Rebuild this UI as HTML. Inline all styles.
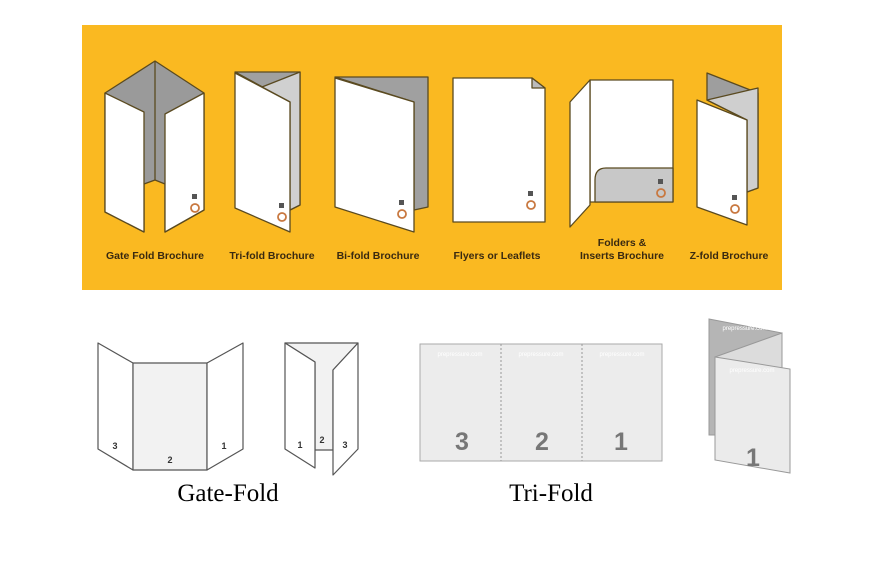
<!DOCTYPE html>
<html><head><meta charset="utf-8"><style>
body{margin:0;background:#fff;width:877px;height:577px;overflow:hidden}
svg{display:block}
.lb{font-family:"Liberation Sans",sans-serif;font-weight:bold;font-size:10.5px;fill:#3a2a10;text-anchor:middle}
.n{font-family:"Liberation Sans",sans-serif;font-weight:bold;font-size:9px;fill:#333;text-anchor:middle}
.big{font-family:"Liberation Sans",sans-serif;font-weight:bold;font-size:25px;fill:#777;text-anchor:middle}
.wm{font-family:"Liberation Sans",sans-serif;font-size:6px;fill:#fff;text-anchor:middle}
.cap{font-family:"Liberation Serif",serif;font-size:25px;fill:#000;text-anchor:middle}
</style></head><body>
<svg width="877" height="577" viewBox="0 0 877 577" xmlns="http://www.w3.org/2000/svg">
<rect x="82" y="25" width="700" height="265" fill="#fab921"/>
<g stroke="#5a4a20" stroke-width="1.3" stroke-linejoin="round">
<polygon points="105,93 155,61 204,93 204,210 165,232 165,184 155,180 144,184 144,232 105,212" fill="#9a9a9a"/>
<line x1="155" y1="61" x2="155" y2="180"/>
<polygon points="105,93 144,112 144,232 105,212" fill="#fff"/>
<polygon points="165,114 204,93 204,210 165,232" fill="#fff"/>
<polygon points="235,72 300,72 300,205 290,210 290,102" fill="#a0a0a0"/>
<polygon points="262,87 300,72 300,205 290,210 290,102" fill="#d0d0d0"/>
<polygon points="235,73 290,102 290,232 235,208" fill="#fff"/>
<polygon points="335,77 428,77 428,207 414,210 414,102" fill="#a0a0a0"/>
<polygon points="335,78 414,102 414,232 335,207" fill="#fff"/>
<polygon points="453,78 532,78 545,88 545,222 453,222" fill="#fff"/>
<polygon points="532,78 545,88 532,88" fill="#bbb"/>
<rect x="590" y="80" width="83" height="122" fill="#fff"/>
<path d="M673,168 L606,168 Q595,168 595,180 L595,202 L673,202 Z" fill="#c8c8c8"/>
<polygon points="570,102 590,80 590,205 570,227" fill="#fff"/>
<polygon points="707,73 758,93 758,188 747,192 747,120 707,100" fill="#9e9e9e"/>
<polygon points="707,100 758,88 758,188 747,192 747,120" fill="#cfcfcf"/>
<polygon points="697,100 747,120 747,225 697,207" fill="#fff"/>
</g>
<g fill="none" stroke="#c87840" stroke-width="1.8">
<circle cx="195" cy="208" r="4"/><circle cx="282" cy="217" r="4"/><circle cx="402" cy="214" r="4"/>
<circle cx="531" cy="205" r="4"/><circle cx="661" cy="193" r="4"/><circle cx="735" cy="209" r="4"/>
</g>
<g fill="#555">
<rect x="192" y="194" width="5" height="5"/><rect x="279" y="203" width="5" height="5"/><rect x="399" y="200" width="5" height="5"/>
<rect x="528" y="191" width="5" height="5"/><rect x="658" y="179" width="5" height="5"/><rect x="732" y="195" width="5" height="5"/>
</g>
<text class="lb" x="155" y="259">Gate Fold Brochure</text>
<text class="lb" x="272" y="259">Tri-fold Brochure</text>
<text class="lb" x="378" y="259">Bi-fold Brochure</text>
<text class="lb" x="497" y="259">Flyers or Leaflets</text>
<text class="lb" x="622" y="246">Folders &amp;</text>
<text class="lb" x="622" y="259">Inserts Brochure</text>
<text class="lb" x="729" y="259">Z-fold Brochure</text>

<g stroke="#555" stroke-width="1.2" stroke-linejoin="round">
<polygon points="98,343 133,363 133,470 98,449" fill="#fff"/>
<rect x="133" y="363" width="74" height="107" fill="#f2f2f2"/>
<polygon points="207,363 243,343 243,449 207,470" fill="#fff"/>
<polygon points="285,343 358,343 333,370 333,450 315,450 315,362" fill="#f2f2f2"/>
<polygon points="285,343 315,362 315,468 285,449" fill="#fff"/>
<polygon points="333,370 358,343 358,449 333,475" fill="#fff"/>
</g>
<text class="n" x="115" y="449">3</text><text class="n" x="170" y="463">2</text><text class="n" x="224" y="449">1</text>
<text class="n" x="300" y="448">1</text><text class="n" x="322" y="443">2</text><text class="n" x="345" y="448">3</text>
<text class="cap" x="228" y="501">Gate-Fold</text>

<rect x="420" y="344" width="242" height="117" fill="#ececec" stroke="#aaa"/>
<line x1="501" y1="344" x2="501" y2="461" stroke="#999" stroke-dasharray="2,2"/>
<line x1="582" y1="344" x2="582" y2="461" stroke="#999" stroke-dasharray="2,2"/>
<text class="wm" x="460" y="356">prepressure.com</text><text class="wm" x="541" y="356">prepressure.com</text><text class="wm" x="622" y="356">prepressure.com</text>
<text class="big" x="462" y="450">3</text><text class="big" x="542" y="450">2</text><text class="big" x="621" y="450">1</text>
<text class="cap" x="551" y="501">Tri-Fold</text>

<g stroke="#999" stroke-width="1">
<polygon points="709,319 782,333 782,440 715,435 709,435" fill="#b5b5b5"/>
<polygon points="715,357 782,333 782,440 715,435" fill="#dcdcdc"/>
<polygon points="715,357 790,369 790,473 715,460" fill="#ebebeb"/>
</g>
<text class="wm" x="745" y="330">prepressure.com</text>
<text class="wm" x="752" y="372">prepressure.com</text>
<text class="big" x="753" y="466">1</text>
</svg>
</body></html>
